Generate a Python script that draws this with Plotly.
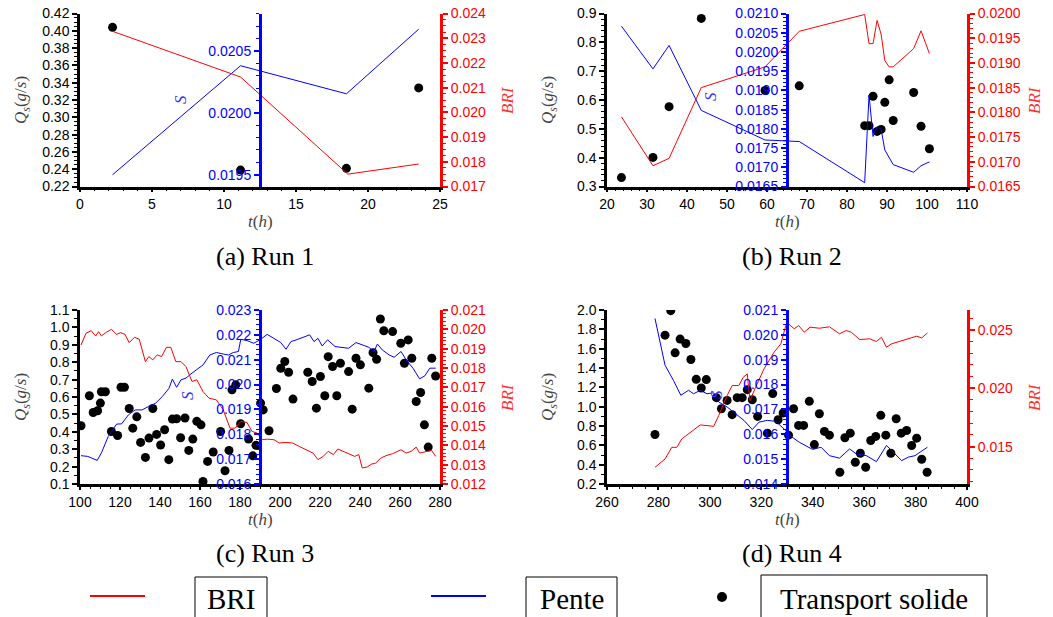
import plotly.graph_objects as go

W, H = 1053, 617

# ---------------- DATA ----------------
# Run 1
t_qs_a = [2.26, 11.15, 18.5, 23.52]
qs_a = [0.404, 0.239, 0.241, 0.334]
t_bri_a = [2.26, 11.15, 18.6, 23.52]
bri_a = [0.02328, 0.02143, 0.0175, 0.01791]
t_s_a = [2.26, 11.15, 18.5, 23.52]
s_a = [0.0195, 0.020381, 0.020154, 0.020676]

# Run 2
t_qs_b = [23.61, 31.49, 35.52, 43.57, 59.51, 68.06, 84.42, 85.51, 86.51, 87.52, 88.53, 89.45, 90.54, 91.55, 96.66, 98.51, 100.60]
qs_b = [0.331, 0.401, 0.577, 0.883, 0.633, 0.649, 0.511, 0.511, 0.613, 0.491, 0.498, 0.592, 0.670, 0.529, 0.626, 0.509, 0.431]
t_bri_b = [23.61, 31.49, 35.52, 43.57, 59.51, 68.06, 84.42, 85.51, 86.51, 87.52, 88.53, 89.45, 90.54, 91.55, 96.66, 98.51, 100.60]
bri_b = [0.01791, 0.01692, 0.01707, 0.01850, 0.01892, 0.01964, 0.01998, 0.01939, 0.01939, 0.01986, 0.01958, 0.01905, 0.01892, 0.01892, 0.01929, 0.01965, 0.01919]
t_s_b = [23.61, 31.49, 35.52, 43.57, 59.51, 68.06, 84.42, 85.51, 86.51, 87.52, 88.53, 89.45, 91.55, 96.66, 98.51, 100.60]
s_b = [0.02067, 0.01956, 0.02017, 0.01848, 0.01771, 0.01767, 0.01660, 0.01888, 0.01780, 0.01806, 0.01799, 0.01745, 0.01707, 0.01687, 0.01704, 0.01714]

# Run 3
t_qs_c = [100.5, 104.7, 106.6, 108.8, 110.2, 110.7, 112.7, 115.7, 118.8, 120.5, 122.2, 124.6, 126.4, 128.4,
          130.3, 132.7, 134.5, 136.4, 138.3, 140.3, 142.3, 144.4, 146.2, 148.3, 150.3, 152.5, 154.4, 156.4,
          158.4, 160.5, 161.5, 163.8, 166.6, 170.3, 172.5, 174.5, 176.0, 177.9, 180.3, 184.3, 186.4, 188.0,
          190.3, 191.6, 194.5, 198.2, 200.4, 202.4, 204.3, 206.5, 213.9, 216.1, 218.2, 220.2, 222.4, 224.1,
          226.3, 228.4, 230.2, 234.3, 236.1, 238.0, 240.2, 244.4, 246.5, 248.3, 250.2, 251.9, 256.3, 260.4,
          262.2, 264.1, 265.9, 268.1, 270.3, 272.2, 274.1, 275.9, 277.8]
qs_c = [0.435, 0.607, 0.511, 0.521, 0.565, 0.630, 0.630, 0.402, 0.379, 0.656, 0.656, 0.534, 0.421, 0.486,
        0.339, 0.253, 0.364, 0.534, 0.385, 0.324, 0.412, 0.240, 0.473, 0.475, 0.366, 0.479, 0.293, 0.358,
        0.460, 0.440, 0.115, 0.230, 0.284, 0.402, 0.176, 0.293, 0.641, 0.670, 0.446, 0.358, 0.262, 0.322,
        0.565, 0.526, 0.406, 0.649, 0.765, 0.804, 0.742, 0.588, 0.742, 0.689, 0.536, 0.718, 0.607, 0.832,
        0.775, 0.607, 0.794, 0.746, 0.530, 0.823, 0.785, 0.651, 0.855, 0.817, 1.048, 0.981, 0.976, 0.909,
        0.794, 0.928, 0.823, 0.574, 0.626, 0.440, 0.312, 0.823, 0.721]
t_bri_c = [100.5, 103.0, 105.6, 107.8, 109.3, 110.7, 113.2, 115.7, 118.3, 120.3, 122.5, 124.6, 127.3, 129.6,
           132.7, 134.4, 136.4, 138.6, 140.8, 143.2, 145.4, 147.9, 150.5, 153.0, 156.0, 158.4, 161.5, 164.5,
           168.2, 171.6, 175.0, 177.6, 180.4, 183.5, 186.0, 188.6, 191.1, 193.6, 197.0, 199.6, 203.0, 206.3,
           209.7, 213.1, 216.5, 219.0, 221.6, 224.1, 226.7, 228.9, 231.7, 234.3, 237.3, 239.4, 241.1, 243.6,
           245.8, 247.8, 250.4, 252.9, 256.3, 260.5, 263.1, 265.6, 268.1, 269.8, 273.2, 275.8, 277.8]
bri_c = [0.01919, 0.01980, 0.01993, 0.01966, 0.01988, 0.01966, 0.01985, 0.02000, 0.01974, 0.01983, 0.01974,
         0.01931, 0.01959, 0.01949, 0.01833, 0.01859, 0.01842, 0.01868, 0.01859, 0.01907, 0.01907, 0.01833,
         0.01833, 0.01807, 0.01730, 0.01739, 0.01678, 0.01644, 0.01635, 0.01584, 0.01489, 0.01489, 0.01524,
         0.01518, 0.01472, 0.01463, 0.01429, 0.01432, 0.01429, 0.01412, 0.01415, 0.01412, 0.01394, 0.01377,
         0.01360, 0.01326, 0.01343, 0.01369, 0.01352, 0.01381, 0.01369, 0.01360, 0.01343, 0.01352, 0.01283,
         0.01288, 0.01303, 0.01308, 0.01334, 0.01346, 0.01357, 0.01377, 0.01360, 0.01369, 0.01391, 0.01360,
         0.01369, 0.01374, 0.01343]
t_s_c = [100.5, 103.9, 108.6, 110.7, 114.1, 118.3, 120.8, 124.2, 127.6, 131.0, 134.4, 137.8, 141.2, 144.5,
         146.2, 148.3, 150.5, 153.0, 155.5, 158.1, 161.5, 164.9, 168.2, 171.6, 174.2, 176.7, 179.2, 180.4,
         183.5, 186.9, 190.3, 193.6, 197.0, 200.4, 203.0, 205.5, 208.9, 212.3, 214.8, 217.0, 219.0, 221.1,
         223.8, 227.5, 230.9, 234.3, 238.0, 241.1, 244.4, 247.0, 248.7, 251.2, 254.6, 257.1, 260.5, 263.1,
         266.5, 269.8, 272.4, 274.9, 277.8]
s_c = [0.01714, 0.01711, 0.01695, 0.01725, 0.01791, 0.01841, 0.01842, 0.01878, 0.01898, 0.01898, 0.01912,
       0.01925, 0.01952, 0.01985, 0.02022, 0.01989, 0.02019, 0.02026, 0.02043, 0.02059, 0.02079, 0.02119,
       0.02129, 0.02123, 0.02119, 0.02129, 0.02133, 0.02182, 0.02177, 0.02166, 0.02182, 0.02202, 0.02186,
       0.02169, 0.02142, 0.02173, 0.02182, 0.02193, 0.02200, 0.02173, 0.02186, 0.02155, 0.02180, 0.02153,
       0.02150, 0.02146, 0.02169, 0.02159, 0.02150, 0.02133, 0.02163, 0.02139, 0.02119, 0.02110, 0.02133,
       0.02099, 0.02066, 0.02023, 0.02035, 0.02066, 0.02066]

# Run 4
t_qs_d = [278.66, 282.57, 284.79, 286.49, 288.44, 290.66, 292.62, 294.71, 296.67, 298.62, 302.54, 304.49,
          306.71, 308.67, 310.63, 312.58, 314.54, 316.50, 318.59, 322.37, 324.46, 326.54, 328.50, 330.59,
          332.55, 334.50, 336.46, 338.68, 340.64, 342.59, 344.55, 346.51, 350.55, 352.51, 354.60, 356.56,
          358.51, 360.60, 362.56, 364.52, 366.47, 368.43, 370.39, 372.47, 374.43, 376.52, 378.48, 380.43,
          382.39, 384.48]
qs_d = [0.712, 1.740, 1.993, 1.557, 1.699, 1.654, 1.488, 1.283, 1.193, 1.280, 1.093, 0.979, 1.065, 0.917,
        1.093, 1.093, 1.176, 1.072, 0.899, 0.726, 1.135, 0.865, 0.934, 0.705, 0.979, 0.806, 0.806, 1.055,
        0.608, 0.927, 0.744, 0.705, 0.321, 0.678, 0.726, 0.425, 0.518, 0.373, 0.650, 0.692, 0.910, 0.705,
        0.518, 0.875, 0.726, 0.754, 0.598, 0.674, 0.456, 0.321]
t_bri_d = [278.66, 282.57, 285.18, 287.14, 289.10, 292.36, 296.27, 301.49, 303.45, 306.71, 308.67, 311.28,
           312.97, 314.54, 315.58, 317.80, 321.06, 324.98, 327.59, 329.55, 330.59, 332.81, 334.51, 336.73,
           338.94, 342.59, 346.51, 350.42, 353.03, 354.99, 358.25, 362.16, 364.78, 366.73, 368.69, 370.65,
           373.91, 377.17, 380.43, 382.39, 384.61]
bri_d = [0.01323, 0.01394, 0.01494, 0.01494, 0.01566, 0.01623, 0.01686, 0.01674, 0.01766, 0.01937, 0.02023,
         0.02023, 0.02094, 0.02123, 0.01894, 0.02009, 0.02166, 0.02309, 0.02380, 0.02537, 0.02551, 0.02509,
         0.02537, 0.02480, 0.02523, 0.02514, 0.02526, 0.02466, 0.02494, 0.02480, 0.02417, 0.02423, 0.02400,
         0.02437, 0.02351, 0.02380, 0.02400, 0.02423, 0.02446, 0.02431, 0.02474]
t_s_d = [278.66, 282.57, 285.83, 288.71, 291.71, 293.66, 296.27, 298.88, 301.49, 303.45, 306.71, 310.63,
         313.24, 316.50, 319.11, 322.37, 325.63, 329.55, 330.20, 334.77, 339.98, 343.25, 346.51, 350.42,
         354.34, 356.95, 360.86, 364.78, 368.69, 371.30, 374.56, 377.17, 379.78, 381.74, 384.61]
s_d = [0.02066, 0.01878, 0.01817, 0.01757, 0.01777, 0.01763, 0.01777, 0.01763, 0.01767, 0.01730, 0.01710,
       0.01676, 0.01656, 0.01619, 0.01649, 0.01656, 0.01652, 0.01615, 0.01602, 0.01568, 0.01539, 0.01548,
       0.01514, 0.01504, 0.01541, 0.01521, 0.01514, 0.01490, 0.01555, 0.01528, 0.01494, 0.01508, 0.01514,
       0.01528, 0.01548]

captions = ["(a) Run 1", "(b) Run 2", "(c) Run 3", "(d) Run 4"]
legend_labels = ["BRI", "Pente", "Transport solide"]

# ---------------- LAYOUT HELPERS ----------------
def px(x):
    return x / W

def py(y):
    return 1 - y / H

SANS = "Liberation Sans, Arial, sans-serif"
SERIF = "Liberation Serif, Times New Roman, serif"
EPS = 1e-9

panels = [
    dict(x0=80, x1=440, y0=13.5, y1=186.5,
         xr=[0, 25], xd=5, xm=1,
         qr=[0.22, 0.42], qd=0.02, qf=".2f", qm=0.005,
         sr=[0.019405, 0.020803], s0=0.0195, sd=0.0005, sf=".4f", sm=0.0001,
         br=[0.017, 0.024], b0=0.017, bd=0.001, bf=".3f", bm=0.00025,
         tq=t_qs_a, q=qs_a, tb=t_bri_a, b=bri_a, ts=t_s_a, s=s_a,
         cap=captions[0], capy=256, s_lab=(180, 100), tlab_y=221),
    dict(x0=607, x1=967, y0=13.5, y1=186.5,
         xr=[20, 110], xd=10, xm=2,
         qr=[0.3, 0.9], qd=0.1, qf=".1f", qm=0.02,
         sr=[0.0165, 0.021], s0=0.0165, sd=0.0005, sf=".4f", sm=0.0001,
         br=[0.0165, 0.020], b0=0.0165, bd=0.0005, bf=".4f", bm=0.0001,
         tq=t_qs_b, q=qs_b, tb=t_bri_b, b=bri_b, ts=t_s_b, s=s_b,
         cap=captions[1], capy=256, s_lab=(710, 97), tlab_y=221),
    dict(x0=80, x1=440, y0=310, y1=484,
         xr=[100, 280], xd=20, xm=5,
         qr=[0.1, 1.1], qd=0.1, qf=".1f", qm=0.05,
         sr=[0.016, 0.023], s0=0.016, sd=0.001, sf=".3f", sm=0.0002,
         br=[0.012, 0.021], b0=0.012, bd=0.001, bf=".3f", bm=0.0002,
         tq=t_qs_c, q=qs_c, tb=t_bri_c, b=bri_c, ts=t_s_c, s=s_c,
         cap=captions[2], capy=553, s_lab=(187, 396), tlab_y=519),
    dict(x0=607, x1=967, y0=310, y1=484,
         xr=[260, 400], xd=20, xm=5,
         qr=[0.2, 2.0], qd=0.2, qf=".1f", qm=0.1,
         sr=[0.014, 0.021], s0=0.014, sd=0.001, sf=".3f", sm=0.0002,
         br=[0.0118, 0.0267], b0=0.015, bd=0.005, bf=".3f", bm=0.001,
         tq=t_qs_d, q=qs_d, tb=t_bri_d, b=bri_d, ts=t_s_d, s=s_d,
         cap=captions[3], capy=553, s_lab=(716, 395), tlab_y=519),
]

fig = go.Figure()
layout = dict(
    width=W, height=H, autosize=False,
    margin=dict(l=0, r=0, t=0, b=0, autoexpand=False),
    paper_bgcolor="white", plot_bgcolor="rgba(0,0,0,0)",
    showlegend=False,
)
annotations = []
shapes = []


def ann(x, y, text, size, color, family=SERIF, angle=0):
    annotations.append(dict(x=px(x), y=py(y), xref="paper", yref="paper", text=text,
                            showarrow=False, xanchor="center", yanchor="middle", textangle=angle,
                            font=dict(family=family, size=size, color=color)))


for i, p in enumerate(panels):
    xn = "x" if i == 0 else f"x{i+1}"
    xk = "xaxis" if i == 0 else f"xaxis{i+1}"
    yq = 3 * i + 1
    ys = 3 * i + 2
    yb = 3 * i + 3
    yqn = "y" if yq == 1 else f"y{yq}"
    ysn = f"y{ys}"
    ybn = f"y{yb}"
    yqk = "yaxis" if yq == 1 else f"yaxis{yq}"
    ysk = f"yaxis{ys}"
    ybk = f"yaxis{yb}"

    xdom = [px(p["x0"]), px(p["x1"])]
    ydom = [py(p["y1"]), py(p["y0"])]
    mid = px((p["x0"] + p["x1"]) / 2)

    common = dict(showgrid=False, zeroline=False, automargin=False, ticks="outside", tickwidth=1.5)

    layout[xk] = dict(
        domain=xdom, anchor=yqn, range=[p["xr"][0] - EPS, p["xr"][1] + EPS],
        tick0=p["xr"][0], dtick=p["xd"], ticklen=3,
        showline=True, linecolor="black", linewidth=2.5, tickcolor="black",
        minor=dict(dtick=p["xm"], ticks="outside", ticklen=2, tickcolor="black", tickwidth=1),
        tickfont=dict(family=SANS, size=14, color="black"), **common,
    )
    layout[yqk] = dict(
        domain=ydom, anchor=xn, range=[p["qr"][0] - EPS, p["qr"][1] + EPS],
        tick0=p["qr"][0], dtick=p["qd"], tickformat=p["qf"], ticklen=5,
        showline=True, linecolor="black", linewidth=2.5, tickcolor="black",
        minor=dict(dtick=p["qm"], ticks="outside", ticklen=3, tickcolor="black", tickwidth=1),
        tickfont=dict(family=SANS, size=14, color="black"), **common,
    )
    layout[ysk] = dict(
        overlaying=yqn, anchor="free", position=mid, side="left",
        range=[p["sr"][0] - EPS, p["sr"][1] + EPS],
        tick0=p["s0"], dtick=p["sd"], tickformat=p["sf"], ticklen=5,
        showline=True, linecolor="#0000ff", linewidth=3, tickcolor="#0000ff",
        minor=dict(dtick=p["sm"], ticks="outside", ticklen=3, tickcolor="#0000ff", tickwidth=1),
        tickfont=dict(family=SANS, size=14, color="#0000ff"), **common,
    )
    layout[ybk] = dict(
        overlaying=yqn, anchor=xn, side="right",
        range=[p["br"][0] - EPS, p["br"][1] + EPS],
        tick0=p["b0"], dtick=p["bd"], tickformat=p["bf"], ticklen=5,
        showline=True, linecolor="#ff0000", linewidth=3, tickcolor="#ff0000",
        minor=dict(dtick=p["bm"], ticks="outside", ticklen=3, tickcolor="#ff0000", tickwidth=1),
        tickfont=dict(family=SANS, size=14, color="#ff0000"), **common,
    )

    fig.add_trace(go.Scatter(x=p["tq"], y=p["q"], mode="markers", xaxis=xn, yaxis=yqn,
                             marker=dict(color="black", size=9), name="Transport solide"))
    fig.add_trace(go.Scatter(x=p["ts"], y=p["s"], mode="lines", xaxis=xn, yaxis=ysn,
                             line=dict(color="#0000ff", width=1), name="Pente"))
    fig.add_trace(go.Scatter(x=p["tb"], y=p["b"], mode="lines", xaxis=xn, yaxis=ybn,
                             line=dict(color="#ff0000", width=1), name="BRI"))

    cy = (p["y0"] + p["y1"]) / 2
    ann(p["x0"] - 58, cy, "<i>Q</i><sub><i>s</i></sub>(<i>g</i>/<i>s</i>)", 17, "#444444", angle=-90)
    ann((p["x0"] + p["x1"]) / 2, p["tlab_y"], "<i>t</i>(<i>h</i>)", 17, "#444444")
    ann(p["s_lab"][0], p["s_lab"][1], "<i>S</i>", 17, "#3030ff", angle=-90)
    ann(p["x1"] + 67, cy, "<i>BRI</i>", 17, "#ff3030", angle=-90)
    ann((p["x0"] + p["x1"]) / 2 + 5, p["capy"], p["cap"], 26, "black")

# ---------------- LEGEND (bottom) ----------------
shapes.append(dict(type="line", xref="paper", yref="paper", x0=px(90), x1=px(145), y0=py(596), y1=py(596),
                   line=dict(color="#ff0000", width=2)))
shapes.append(dict(type="line", xref="paper", yref="paper", x0=px(431), x1=px(486), y0=py(596), y1=py(596),
                   line=dict(color="#0000ff", width=2)))
shapes.append(dict(type="circle", xref="paper", yref="paper", x0=px(717), x1=px(727), y0=py(602), y1=py(592),
                   fillcolor="black", line=dict(color="black", width=0)))
for (bx0, bx1, by0) in [(195, 267, 577), (526, 617, 577), (761, 987, 575)]:
    shapes.append(dict(type="rect", xref="paper", yref="paper", x0=px(bx0), x1=px(bx1), y0=py(by0), y1=py(640),
                       line=dict(color="black", width=1), fillcolor="rgba(0,0,0,0)"))
for lab, cx in zip(legend_labels, [231, 571.5, 874]):
    ann(cx, 599, lab, 29, "black")

layout["annotations"] = annotations
layout["shapes"] = shapes
fig.update_layout(**layout)

fig.write_html("out.html", config={"displayModeBar": False},
               post_script="document.body.style.margin='0';document.body.style.overflow='hidden';")
